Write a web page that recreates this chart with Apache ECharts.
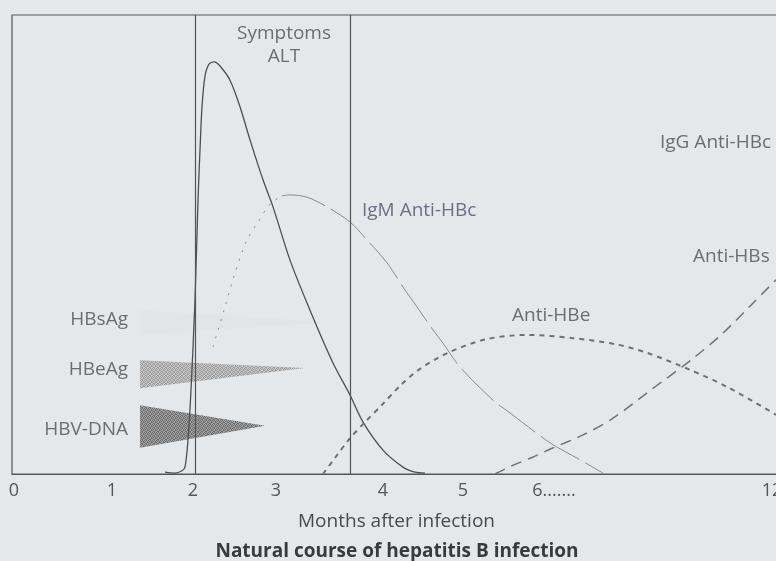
<!DOCTYPE html>
<html><head><meta charset="utf-8">
<script src="https://cdn.jsdelivr.net/npm/echarts@6/dist/echarts.min.js"></script>
<style>html,body{margin:0;padding:0;background:#e4e8eb}#c{width:776px;height:561px}</style>
</head><body><div id="c"></div>
<script>
// x: position on the schematic timeline (axis units), y: relative level (0-100)
const tickValues = [2, 100, 181, 264, 371, 451, 542, 760];
const tickLabels = ['0', '1', '2', '3', '4', '5', '6.......', '12'];
const phaseBoundaries = [183, 338];

const altX = [153, 163, 170, 173, 176, 179, 183, 186, 188, 190, 193, 197, 202, 208, 218, 228, 238, 251, 261, 278, 298, 321, 338, 351, 371, 391, 403, 413];
const altY = [0.4, 0.2, 0.7, 1.5, 7.4, 18.3, 37.9, 59.7, 70.6, 80.0, 86.7, 89.3, 89.8, 88.9, 85.8, 80.0, 72.8, 64.1, 58.2, 46.6, 35.7, 24.2, 17.2, 11.3, 5.2, 1.5, 0.4, 0.2];

const igmRiseX = [201, 212, 223, 235, 246, 258, 270];
const igmRiseY = [27.7, 35.7, 43.8, 51.0, 54.9, 58.8, 60.6];
const igmFallX = [270, 278, 295, 315, 338, 355, 375, 393, 405, 421, 431, 448, 481, 498, 538, 568, 591];
const igmFallY = [60.6, 60.8, 60.3, 58.2, 54.9, 51.0, 46.0, 40.1, 36.4, 31.4, 28.5, 23.3, 16.1, 13.3, 6.8, 3.1, 0.2];

const antiHBeX = [311, 323, 338, 353, 371, 388, 408, 438, 475, 515, 561, 603, 635, 678, 715, 764];
const antiHBeY = [0, 3.5, 7.8, 11.3, 15.3, 19.2, 22.9, 26.6, 29.4, 30.3, 29.6, 28.3, 26.4, 22.7, 19.0, 12.9];

const antiHBsX = [483, 500, 520, 540, 570, 600, 640, 680, 710, 740, 764];
const antiHBsY = [0, 1.8, 3.6, 5.6, 8.4, 12.0, 18.5, 25.0, 30.5, 37.0, 42.3];

// markers (wedges): start x, tip x, left-top y, left-bottom y, tip y
const markerNames = ['HBsAg', 'HBeAg', 'HBV-DNA'];
const markerXStart = [128, 128, 128];
const markerXTip = [318, 293, 253];
const markerYTop = [35.7, 24.8, 15.0];
const markerYBottom = [30.3, 18.7, 5.7];
const markerYTip = [33.1, 23.1, 10.5];

// text annotations
const noteText = ['Symptoms\nALT', 'IgM Anti-HBc', 'IgG Anti-HBc', 'Anti-HBs', 'Anti-HBe', 'HBsAg', 'HBeAg', 'HBV-DNA'];
const noteX = [272, 350, 648, 681, 500, 116, 116, 116];
const noteY = [93.5, 57.3, 72.3, 47.3, 34.6, 33.6, 22.7, 9.6];
const noteAlign = ['center', 'left', 'left', 'left', 'left', 'right', 'right', 'right'];

const zip = (xs, ys) => xs.map((x, i) => [x, ys[i]]);

function stipple(dark, light) {
  const cv = document.createElement('canvas');
  cv.width = 4; cv.height = 4;
  const g = cv.getContext('2d');
  g.fillStyle = light; g.fillRect(0, 0, 4, 4);
  g.fillStyle = dark;
  [[0,0],[2,0],[1,1],[3,1],[0,2],[3,2],[1,3],[2,3]].forEach(p => g.fillRect(p[0], p[1], 1, 1));
  return { image: cv, repeat: 'repeat' };
}
const markerFills = [
  'rgba(170,170,170,0.03)',
  stipple('#9c9c9c', '#c8c8c8'),
  stipple('#6e6e6e', '#a2a2a2')
];

const FONT = '"Open Sans", "Noto Sans", sans-serif';
const chart = echarts.init(document.getElementById('c'));
chart.setOption({
  animation: false,
  backgroundColor: '#e4e8eb',
  textStyle: { fontFamily: FONT },
  title: {
    text: 'Natural course of hepatitis B infection',
    left: 392, textAlign: 'center', top: 537,
    textStyle: { fontFamily: FONT, fontSize: 19, fontWeight: 'bold', color: '#3a3a3a' }
  },
  grid: { left: 12, right: -5, top: 15, bottom: 87, show: true, borderColor: '#555', borderWidth: 1.2,
    backgroundColor: 'transparent', containLabel: false, outerBoundsMode: 'none' },
  xAxis: {
    type: 'value', min: 0, max: 769,
    name: 'Months after infection', nameLocation: 'middle', nameGap: 38,
    nameTextStyle: { fontFamily: FONT, fontSize: 19, color: '#4a4a4a' },
    axisLine: { show: true, lineStyle: { color: '#555', width: 1.2 } },
    axisTick: { show: false },
    splitLine: { show: false },
    axisLabel: {
      customValues: tickValues,
      margin: 8, hideOverlap: false,
      fontFamily: FONT, fontSize: 18, color: '#555',
      formatter: v => { const i = tickValues.indexOf(v); return i >= 0 ? tickLabels[i] : ''; }
    }
  },
  yAxis: { type: 'value', min: 0, max: 100, show: false },
  series: [
    {
      type: 'custom', name: 'markers', z: 1,
      data: markerNames.map((n, i) => [markerXStart[i], markerXTip[i], markerYTop[i], markerYBottom[i], markerYTip[i], i]),
      renderItem: (params, api) => {
        const a = api.coord([api.value(0), api.value(2)]);
        const b = api.coord([api.value(1), api.value(4)]);
        const c = api.coord([api.value(0), api.value(3)]);
        return { type: 'polygon', shape: { points: [a, b, c] }, style: { fill: markerFills[api.value(5)] } };
      }
    },
    {
      type: 'line', name: 'ALT', data: zip(altX, altY), showSymbol: false, smooth: 0.3, z: 3,
      lineStyle: { color: '#4e4e4e', width: 1.3 },
      markLine: {
        silent: true, symbol: 'none', label: { show: false },
        lineStyle: { color: '#555', width: 1.2, type: 'solid' },
        data: phaseBoundaries.map(x => ({ xAxis: x }))
      }
    },
    {
      type: 'line', name: 'IgM rise', data: zip(igmRiseX, igmRiseY), showSymbol: false, smooth: 0.3, z: 3,
      lineStyle: { color: '#8a8a8a', width: 1, type: [2, 7] }
    },
    {
      type: 'line', name: 'IgM Anti-HBc', data: zip(igmFallX, igmFallY), showSymbol: false, smooth: 0.3, z: 3,
      lineStyle: { color: '#8a8a8a', width: 1, type: [45, 7] }
    },
    {
      type: 'line', name: 'Anti-HBe', data: zip(antiHBeX, antiHBeY), showSymbol: false, smooth: 0.3, z: 3,
      lineStyle: { color: '#707070', width: 2, type: [5, 5] }
    },
    {
      type: 'line', name: 'Anti-HBs', data: zip(antiHBsX, antiHBsY), showSymbol: false, smooth: 0.3, z: 3,
      lineStyle: { color: '#727272', width: 1.5, type: [11, 7] }
    },
    {
      type: 'scatter', name: 'notes', symbolSize: 0, z: 5,
      data: noteText.map((t, i) => ({
        value: [noteX[i], noteY[i]],
        label: { show: true, formatter: t, position: 'inside', align: noteAlign[i], verticalAlign: 'middle',
          fontFamily: FONT, fontSize: 19, lineHeight: 23, color: i === 1 ? '#534e68' : '#4d4d4d' }
      }))
    }
  ]
});
</script>
</body></html>
